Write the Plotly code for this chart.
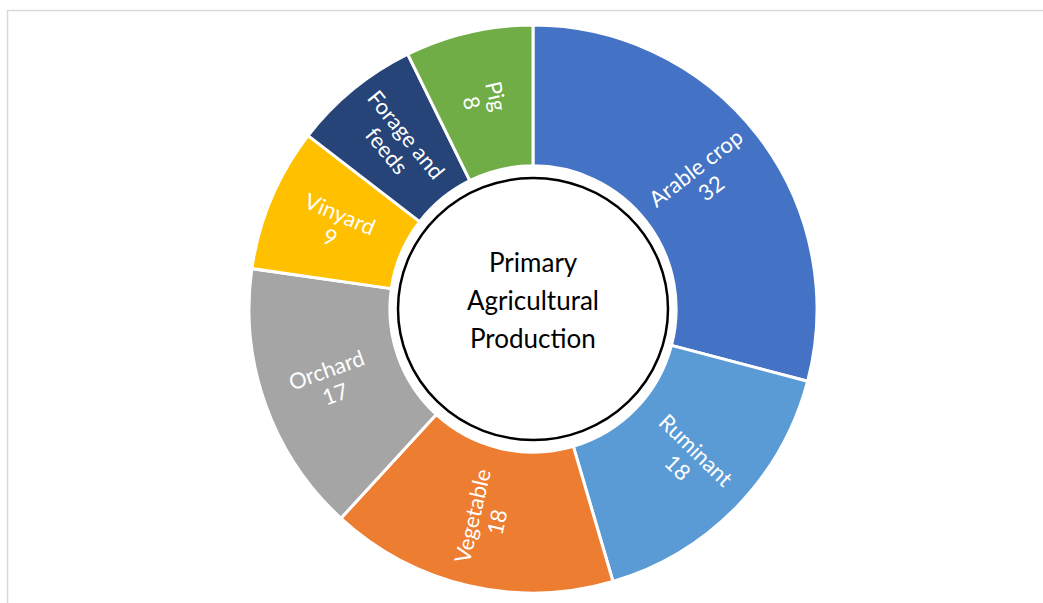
import math
import plotly.graph_objects as go

# Primary agricultural production by sector
sectors = ["Arable crop", "Ruminant", "Vegetable", "Orchard", "Vinyard", "Forage and feeds", "Pig"]
values = [32, 18, 18, 17, 9, 8, 8]
colors = ["#4472C4", "#5B9BD5", "#ED7D31", "#A5A5A5", "#FFC000", "#264478", "#70AD47"]
# slice labels: name on top, value below (forage label shows name only)
show_value = [True, True, True, True, True, False, True]
center_lines = ["Primary", "Agricultural", "Production"]

W, H = 1043, 603
L, R, T, B = 23, 0, 25, 10
PW, PH = W - L - R, H - T - B
CX, CY = L + PW / 2, T + PH / 2          # pie centre in pixels
R_OUT = min(PW, PH) / 2
HOLE = 0.504
R_LABEL = 215                            # radius of label centres (px)
LINE_GAP = 25                            # distance between label lines (px)


def px_x(px):
    return (px - L) / PW


def px_y(py):
    return (H - B - py) / PH


fig = go.Figure(
    go.Pie(
        labels=sectors,
        values=values,
        textinfo="none",
        marker=dict(colors=colors, line=dict(color="white", width=3)),
        hole=HOLE,
        sort=False,
        direction="clockwise",
        rotation=0,
        showlegend=False,
        hoverinfo="skip",
    )
)

# radial labels placed at each slice's mid-angle
total = sum(values)
cum = 0
for name, v, sv in zip(sectors, values, show_value):
    mid = (cum + v / 2) / total * 360
    cum += v
    th = math.radians(mid)
    bx = CX + R_LABEL * math.sin(th)
    by = CY - R_LABEL * math.cos(th)
    rot = mid - 90
    if rot > 90:
        rot -= 180
    elif rot < -90:
        rot += 180
    if sv:
        lines = [name, str(v)]
    else:
        lines = ["Forage and", "feeds"]
    r = math.radians(rot)
    dx, dy = -math.sin(r), math.cos(r)   # "down" direction of the rotated text
    n = len(lines)
    for i, ln in enumerate(lines):
        off = (i - (n - 1) / 2) * LINE_GAP
        fig.add_annotation(
            x=px_x(bx + off * dx), y=px_y(by + off * dy),
            xref="paper", yref="paper",
            text=ln, showarrow=False, textangle=rot,
            xanchor="center", yanchor="middle",
            font=dict(family="Lato", size=22, color="white"),
        )

# outlined circle in the middle of the ring
fig.add_shape(
    type="circle",
    xref="paper", yref="paper",
    xsizemode="pixel", ysizemode="pixel",
    xanchor=0.5, yanchor=0.5,
    x0=-135, x1=135, y0=-131, y1=131,
    line=dict(color="black", width=2.5),
    fillcolor="white",
    layer="above",
)

for i, ln in enumerate(center_lines):
    fig.add_annotation(
        x=0.5, y=px_y(CY - 9 + (i - 1) * 38), xref="paper", yref="paper",
        text=ln, showarrow=False, xanchor="center", yanchor="middle",
        font=dict(family="Lato", size=26, color="black"),
    )

# thin frame lines along the top and left edges
fig.add_shape(type="line", xref="paper", yref="paper",
              x0=px_x(7), x1=px_x(1043), y0=px_y(10.5), y1=px_y(10.5),
              line=dict(color="#D9D9D9", width=1.5))
fig.add_shape(type="line", xref="paper", yref="paper",
              x0=px_x(7.5), x1=px_x(7.5), y0=px_y(10), y1=px_y(603),
              line=dict(color="#D9D9D9", width=1.5))

fig.update_layout(
    width=W, height=H,
    margin=dict(l=L, r=R, t=T, b=B),
    paper_bgcolor="white",
    plot_bgcolor="white",
)

fig.write_html("out.html")
